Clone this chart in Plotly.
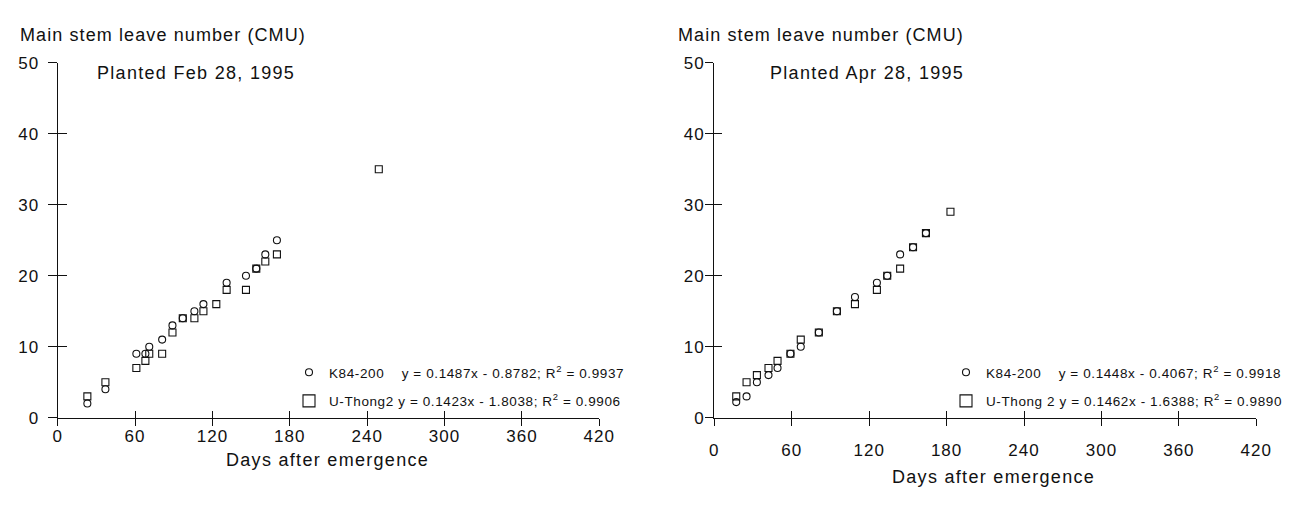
import plotly.graph_objects as go

# ---------------- data ----------------
x_ticks = [0, 60, 120, 180, 240, 300, 360, 420]
y_ticks = [0, 10, 20, 30, 40, 50]

# Planted Feb 28, 1995
feb_k84_days = [23, 37, 61, 68, 71, 81, 89, 97, 106, 113, 131, 146, 154, 161, 170]
feb_k84_leaves = [2, 4, 9, 9, 10, 11, 13, 14, 15, 16, 19, 20, 21, 23, 25]
feb_ut2_days = [23, 37, 61, 68, 71, 81, 89, 97, 106, 113, 123, 131, 146, 154, 161, 170, 249]
feb_ut2_leaves = [3, 5, 7, 8, 9, 9, 12, 14, 14, 15, 16, 18, 18, 21, 22, 23, 35]

# Planted Apr 28, 1995
apr_k84_days = [17, 25, 33, 42, 49, 59, 67, 81, 95, 109, 126, 134, 144, 154, 164]
apr_k84_leaves = [2.2, 3, 5, 6, 7, 9, 10, 12, 15, 17, 19, 20, 23, 24, 26]
apr_ut2_days = [17, 25, 33, 42, 49, 59, 67, 81, 95, 109, 126, 134, 144, 154, 164, 183]
apr_ut2_leaves = [3, 5, 6, 7, 8, 9, 11, 12, 15, 16, 18, 20, 21, 24, 26, 29]

feb_k84_label = "K84-200\u00a0\u00a0\u00a0\u00a0y = 0.1487x - 0.8782; R<sup>2</sup> = 0.9937"
feb_ut2_label = "U-Thong2 y = 0.1423x - 1.8038; R<sup>2</sup> = 0.9906"
apr_k84_label = "K84-200\u00a0\u00a0\u00a0\u00a0y = 0.1448x - 0.4067; R<sup>2</sup> = 0.9918"
apr_ut2_label = "U-Thong 2 y = 0.1462x - 1.6388; R<sup>2</sup> = 0.9890"

y_title = "Main stem leave number (CMU)"
x_title = "Days after emergence"
feb_title = "Planted Feb 28, 1995"
apr_title = "Planted Apr 28, 1995"

# ---------------- style ----------------
OFF = 8  # page body margin
W, H = 1305 - OFF, 506 - OFF
FONT = "Liberation Sans, Arial, sans-serif"
INK = "#111111"


def ls(t, px=1.2):
    return f'<span style="letter-spacing:{px}px">{t}</span>'


def px_x(p):
    return (p - OFF) / W


def px_y(p):
    return 1 - (p - OFF) / H


fig = go.Figure()

mk_c = dict(symbol="circle-open", size=7, color=INK, line=dict(width=1.1, color=INK))
mk_s = dict(symbol="square-open", size=7, color=INK, line=dict(width=1.1, color=INK))

# left panel
fig.add_trace(go.Scatter(x=feb_k84_days, y=feb_k84_leaves, mode="markers", marker=mk_c,
                         xaxis="x", yaxis="y", showlegend=False))
fig.add_trace(go.Scatter(x=feb_ut2_days, y=feb_ut2_leaves, mode="markers", marker=mk_s,
                         xaxis="x", yaxis="y", showlegend=False))
# right panel
fig.add_trace(go.Scatter(x=apr_k84_days, y=apr_k84_leaves, mode="markers", marker=mk_c,
                         xaxis="x2", yaxis="y2", showlegend=False))
fig.add_trace(go.Scatter(x=apr_ut2_days, y=apr_ut2_leaves, mode="markers", marker=mk_s,
                         xaxis="x2", yaxis="y2", showlegend=False))

# legend entries
leg_c = dict(symbol="circle-open", size=7, color=INK, line=dict(width=1.1, color=INK))
leg_s = dict(symbol="square-open", size=12, color=INK, line=dict(width=1.1, color=INK))
for name, mk, leg, grp, xa, ya in [
    (feb_k84_label, leg_c, "legend", "a", "x", "y"),
    (feb_ut2_label, leg_s, "legend", "b", "x", "y"),
    (apr_k84_label, leg_c, "legend2", "c", "x2", "y2"),
    (apr_ut2_label, leg_s, "legend2", "d", "x2", "y2"),
]:
    fig.add_trace(go.Scatter(x=[None], y=[None], mode="markers", marker=mk, name=ls(name, 0.6),
                             legend=leg, legendgroup=grp, xaxis=xa, yaxis=ya, showlegend=True))

# empty traces for the inner-tick overlay axes
fig.add_trace(go.Scatter(x=[], y=[], xaxis="x3", yaxis="y", showlegend=False, hoverinfo="skip"))
fig.add_trace(go.Scatter(x=[], y=[], xaxis="x", yaxis="y3", showlegend=False, hoverinfo="skip"))
fig.add_trace(go.Scatter(x=[], y=[], xaxis="x4", yaxis="y2", showlegend=False, hoverinfo="skip"))
fig.add_trace(go.Scatter(x=[], y=[], xaxis="x2", yaxis="y4", showlegend=False, hoverinfo="skip"))

xdom_l = [px_x(57.7), px_x(599.3)]
xdom_r = [px_x(714.3), px_x(1256.3)]
ydom = [px_y(417.7), px_y(62.7)]

tickfont = dict(family=FONT, size=17, color=INK)
x_ticktext = [ls(str(v), 1.0) for v in x_ticks]
y_ticktext = [ls(str(v), 1.0) for v in y_ticks]

base_x = dict(range=[0, 420], tickvals=x_ticks, ticktext=x_ticktext, showgrid=False, zeroline=False,
              showline=True, linecolor=INK, linewidth=1.3, ticks="outside", ticklen=7,
              tickcolor=INK, tickwidth=1.3, tickfont=tickfont, fixedrange=True, automargin=False)
base_y = dict(range=[0, 50], tickvals=y_ticks, ticktext=y_ticktext, showgrid=False, zeroline=False,
              showline=True, linecolor=INK, linewidth=1.3, ticks="outside", ticklen=9,
              tickcolor=INK, tickwidth=1.3, tickfont=tickfont, fixedrange=True, domain=ydom,
              automargin=False)
inner_x = dict(range=[0, 420], tickvals=x_ticks, showticklabels=False, showgrid=False, zeroline=False,
               showline=False, ticks="inside", ticklen=7, tickcolor=INK, tickwidth=1.3, fixedrange=True,
               automargin=False)
inner_y = dict(range=[0, 50], tickvals=y_ticks, showticklabels=False, showgrid=False, zeroline=False,
               showline=False, ticks="inside", ticklen=9, tickcolor=INK, tickwidth=1.3, fixedrange=True,
               automargin=False)

fig.update_layout(
    width=W, height=H, autosize=False,
    margin=dict(l=0, r=0, t=0, b=0, pad=0, autoexpand=False),
    paper_bgcolor="white", plot_bgcolor="white",
    font=dict(family=FONT, color=INK),
    xaxis=dict(base_x, domain=xdom_l, anchor="y", ticklabelstandoff=-4),
    yaxis=dict(base_y, anchor="x", ticklabelstandoff=5),
    xaxis2=dict(base_x, domain=xdom_r, anchor="y2", ticklabelstandoff=10),
    yaxis2=dict(base_y, anchor="x2", ticklabelstandoff=-3, ticklen=8),
    xaxis3=dict(inner_x, overlaying="x", anchor="y"),
    yaxis3=dict(inner_y, overlaying="y", anchor="x"),
    xaxis4=dict(inner_x, overlaying="x2", anchor="y2"),
    yaxis4=dict(inner_y, overlaying="y2", anchor="x2", ticklen=8),
    legend=dict(x=px_x(289), y=px_y(357), xanchor="left", yanchor="top", bgcolor="rgba(0,0,0,0)",
                font=dict(family=FONT, size=13.5, color=INK), itemwidth=30, tracegroupgap=8,
                itemclick=False, itemdoubleclick=False),
    legend2=dict(x=px_x(946), y=px_y(357), xanchor="left", yanchor="top", bgcolor="rgba(0,0,0,0)",
                 font=dict(family=FONT, size=13.5, color=INK), itemwidth=30, tracegroupgap=8,
                 itemclick=False, itemdoubleclick=False),
    showlegend=True,
)

ann_font = dict(family=FONT, size=18, color=INK)
for text, x, y, xa, sp in [
    (y_title, 18, 35, "left", 1.1),
    (y_title, 676, 35, "left", 1.1),
    (feb_title, 95, 73, "left", 1.3),
    (apr_title, 768, 73, "left", 1.3),
    (x_title, 327, 460, "center", 1.3),
    (x_title, 993, 477, "center", 1.3),
]:
    fig.add_annotation(text=ls(text, sp), x=px_x(x), y=px_y(y), xref="paper", yref="paper",
                       xanchor=xa, yanchor="middle", showarrow=False, font=ann_font)

fig.write_html("out.html")
